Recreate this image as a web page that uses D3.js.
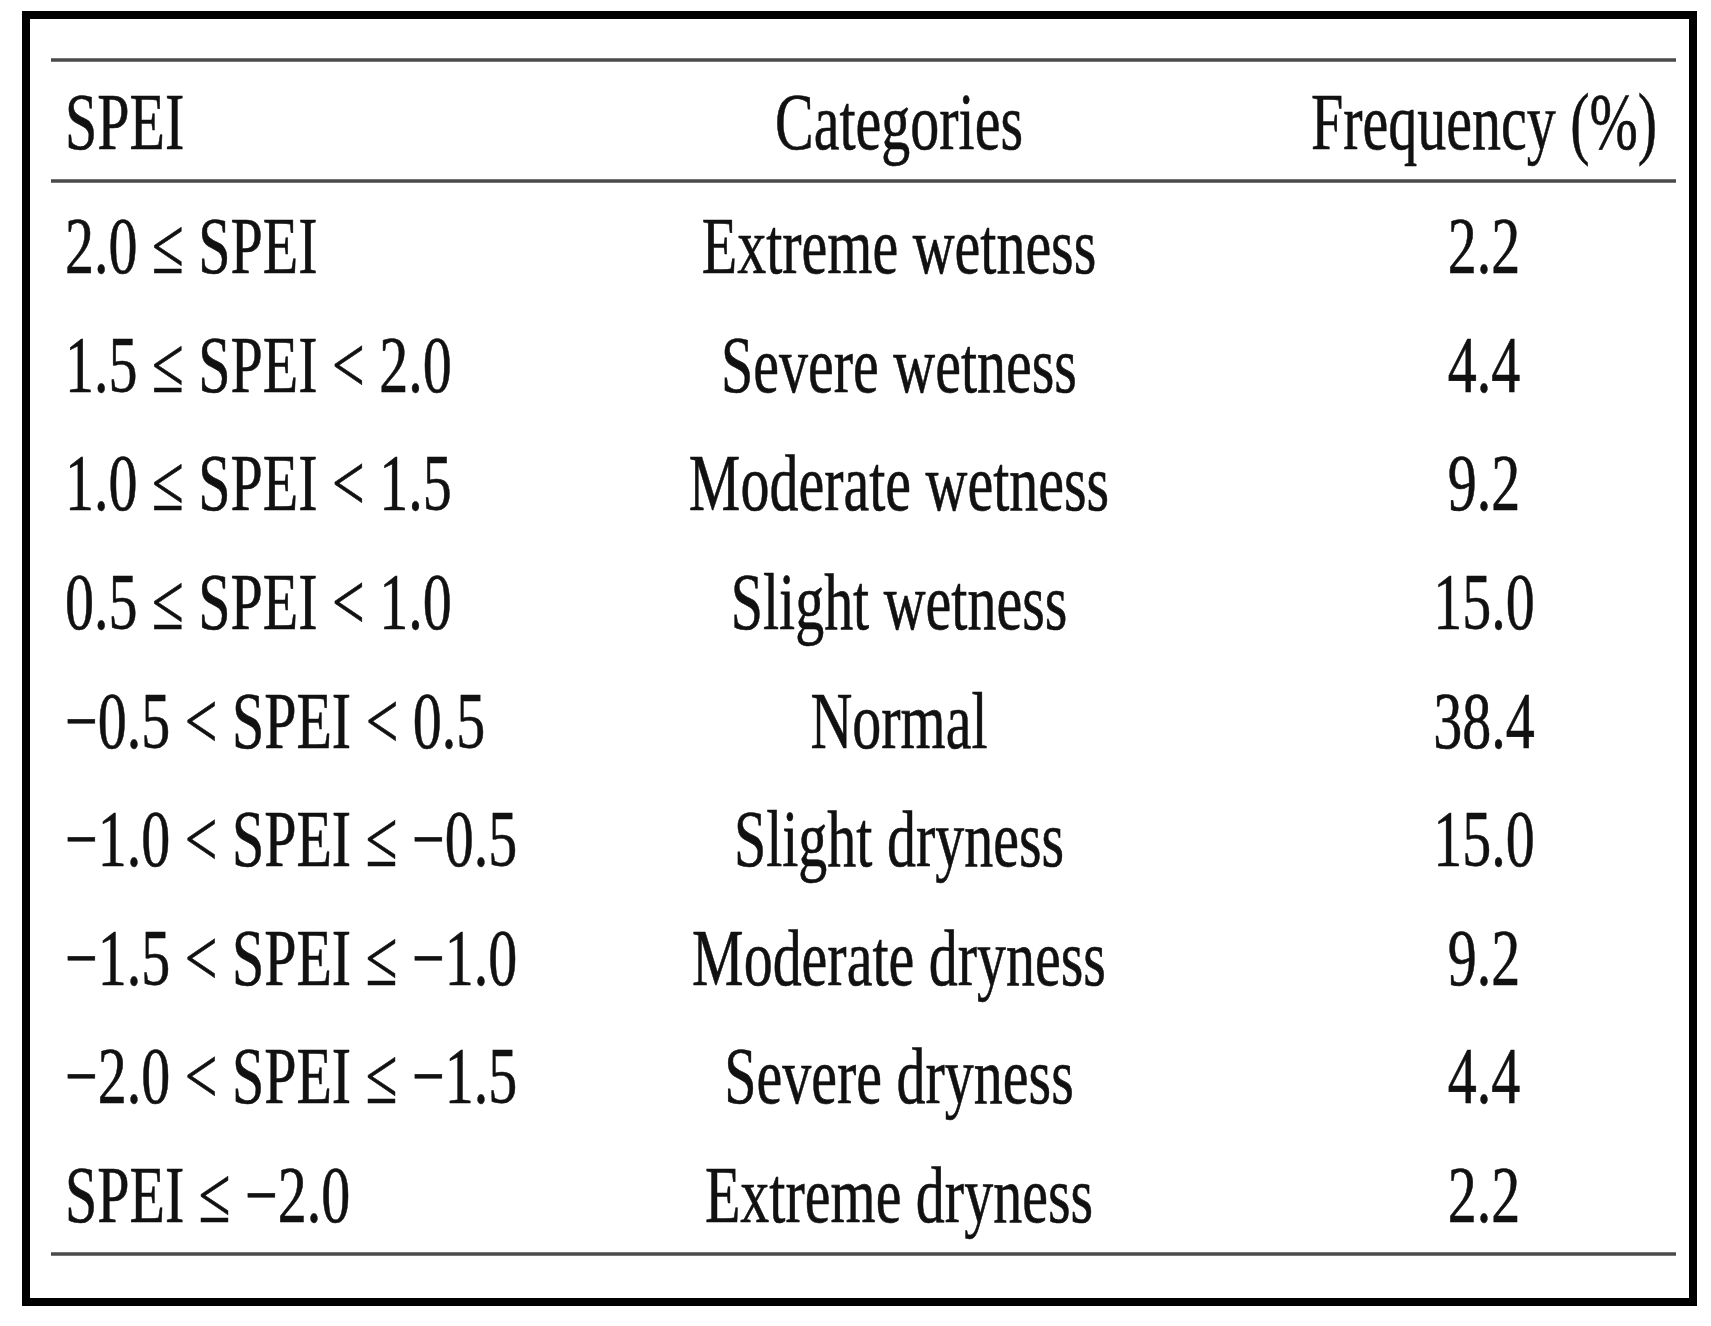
<!DOCTYPE html>
<html>
<head>
<meta charset="utf-8">
<script src="https://cdn.jsdelivr.net/npm/d3@7"></script>
<style>
  html, body { margin: 0; padding: 0; background: #fff; }
  svg { display: block; }
</style>
</head>
<body>
<div id="chart"></div>
<script>
const width = 1711, height = 1326;

// table content
const headers = ["SPEI", "Categories", "Frequency (%)"];
const speiRanges = [
    "2.0 ≤ SPEI",
    "1.5 ≤ SPEI < 2.0",
    "1.0 ≤ SPEI < 1.5",
    "0.5 ≤ SPEI < 1.0",
    "\u22120.5 < SPEI < 0.5",
    "\u22121.0 < SPEI ≤ \u22120.5",
    "\u22121.5 < SPEI ≤ \u22121.0",
    "\u22122.0 < SPEI ≤ \u22121.5",
    "SPEI ≤ \u22122.0"
];
const categories = [
    "Extreme wetness", "Severe wetness", "Moderate wetness", "Slight wetness",
    "Normal", "Slight dryness", "Moderate dryness", "Severe dryness", "Extreme dryness"
];
const frequencies = [2.2, 4.4, 9.2, 15.0, 38.4, 15.0, 9.2, 4.4, 2.2];

const fontSize = 80, squeeze = 0.725;

let svg = d3.select("#chart")
    .append("svg")
    .attr("width", width)
    .attr("height", height);

// outer black frame
svg.append("rect")
    .attr("x", 26).attr("y", 15)
    .attr("width", 1667).attr("height", 1287)
    .attr("fill", "none")
    .attr("stroke", "#000")
    .attr("stroke-width", 8);

// row baselines
const y = d3.scalePoint()
    .domain(d3.range(speiRanges.length))
    .range([273, 1222]);

// column anchors
const cols = [
    { x: 65, anchor: "start" },
    { x: 899, anchor: "middle" },
    { x: 1484, anchor: "middle" }
];

// horizontal rules
const left = 51, right = 1676;
[60, 181, 1254].forEach(ry => {
    svg.append("line")
        .attr("x1", left).attr("x2", right)
        .attr("y1", ry).attr("y2", ry)
        .attr("stroke", "#4a4a4a")
        .attr("stroke-width", 3.5);
});

function cell(txt, col, baseline) {
    svg.append("text")
        .attr("transform", `translate(${cols[col].x},${baseline}) scale(${squeeze},1)`)
        .attr("text-anchor", cols[col].anchor)
        .style("font-family", "'Liberation Serif', 'DejaVu Serif', serif")
        .style("font-size", fontSize + "px")
        .attr("fill", "#111")
        .attr("stroke", "#111")
        .attr("stroke-width", 0.6)
        .text(txt);
}

// header row
headers.forEach((h, i) => cell(h, i, 149));

// body rows
speiRanges.forEach((s, i) => {
    cell(s, 0, y(i));
    cell(categories[i], 1, y(i));
    cell(frequencies[i].toFixed(1), 2, y(i));
});
</script>
</body>
</html>
